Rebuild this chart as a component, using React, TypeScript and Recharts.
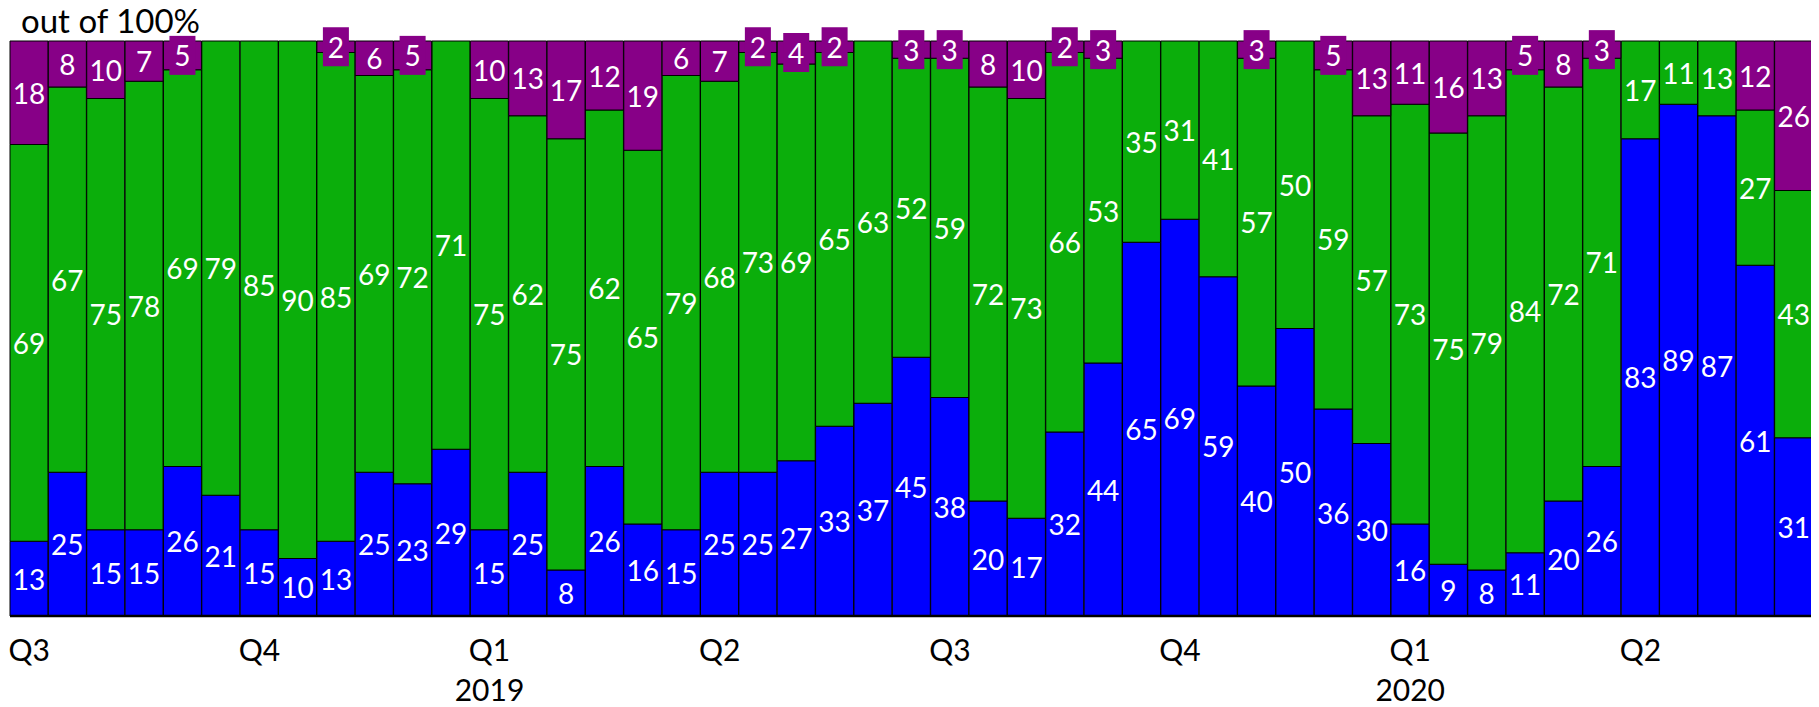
import React from "react";
import { BarChart, Bar, XAxis, YAxis, LabelList } from "recharts";

const blueValues = [13,25,15,15,26,21,15,10,13,25,23,29,15,25,8,26,16,15,25,25,27,33,37,45,38,20,17,32,44,65,69,59,40,50,36,30,16,9,8,11,20,26,83,89,87,61,31];
const greenValues = [69,67,75,78,69,79,85,90,85,69,72,71,75,62,75,62,65,79,68,73,69,65,63,52,59,72,73,66,53,35,31,41,57,50,59,57,73,75,79,84,72,71,17,11,13,27,43];
const purpleValues = [18,8,10,7,5,0,0,0,2,6,5,0,10,13,17,12,19,6,7,2,4,2,0,3,3,8,10,2,3,0,0,0,3,0,5,13,11,16,13,5,8,3,0,0,0,12,26];
const quarterTicks = ["Q3","Q4","Q1","Q2","Q3","Q4","Q1","Q2"];
const yearTicks = ["","","2019","","","","2020",""];
const barsPerQuarter = 6;

const BLUE = "#0000ff";
const GREEN = "#0bae0b";
const PURPLE = "#870087";
const FONT = "Lato, 'Open Sans', sans-serif";
const FS = 28;
const AXIS_FS = 30;
const TITLE_FS = 33;

const data = blueValues.map((b, i) => ({
  idx: i,
  blue: b,
  green: greenValues[i],
  purple: purpleValues[i],
}));

const makeLabel = (boxColor: string) => (props: any) => {
  const vb = props.viewBox || {};
  const x = props.x ?? vb.x;
  const y = props.y ?? vb.y;
  const width = props.width ?? vb.width;
  const height = props.height ?? vb.height;
  const value = props.value;
  if (!value) return null;
  const cx = x + width / 2;
  const cy = y + height / 2;
  const small = value <= 5;
  return (
    <g>
      {small && (
        <rect x={cx - 13} y={cy - 19.5} width={26} height={39} fill={boxColor} />
      )}
      <text
        x={cx}
        y={cy}
        fill="#ffffff"
        fontFamily={FONT}
        fontSize={FS}
        textAnchor="middle"
        dominantBaseline="central"
      >
        {value}
      </text>
    </g>
  );
};

const QuarterTick = (props: any) => {
  const { x, y, payload } = props;
  const i = payload.index ?? payload.value;
  if (i % barsPerQuarter !== 0) return null;
  const q = Math.floor(i / barsPerQuarter);
  return (
    <g>
      <text x={x} y={y + 45} textAnchor="middle" fontFamily={FONT} fontSize={AXIS_FS} fill="#000">
        {quarterTicks[q]}
      </text>
      {yearTicks[q] && (
        <text x={x} y={y + 85} textAnchor="middle" fontFamily={FONT} fontSize={AXIS_FS} fill="#000">
          {yearTicks[q]}
        </text>
      )}
    </g>
  );
};

export default function App() {
  return (
    <div style={{ position: "relative", width: 1811, height: 699 }}>
      <BarChart
        width={1811}
        height={699}
        data={data}
        margin={{ top: 33, right: 6, left: 2, bottom: 0 }}
        barCategoryGap={0}
        barGap={0}
      >
        <YAxis hide domain={[0, 100]} />
        <XAxis
          dataKey="idx"
          interval={0}
          tickLine={false}
          tickSize={0}
          tickMargin={0}
          height={91}
          axisLine={{ stroke: "#000", strokeWidth: 2.5 }}
          tick={<QuarterTick />}
        />
        <Bar dataKey="blue" stackId="a" fill={BLUE} stroke="#000" strokeWidth={1} isAnimationActive={false}>
          <LabelList dataKey="blue" content={makeLabel(BLUE)} />
        </Bar>
        <Bar dataKey="green" stackId="a" fill={GREEN} stroke="#000" strokeWidth={1} isAnimationActive={false}>
          <LabelList dataKey="green" content={makeLabel(GREEN)} />
        </Bar>
        <Bar dataKey="purple" stackId="a" fill={PURPLE} stroke="#000" strokeWidth={1} isAnimationActive={false}>
          <LabelList dataKey="purple" content={makeLabel(PURPLE)} />
        </Bar>
      </BarChart>
      <svg
        style={{ position: "absolute", left: 0, top: 0, pointerEvents: "none", overflow: "visible" }}
        width={400}
        height={33}
      >
        <text x={13} y={25} fontFamily={FONT} fontSize={TITLE_FS} fill="#000">
          out of 100%
        </text>
      </svg>
    </div>
  );
}
